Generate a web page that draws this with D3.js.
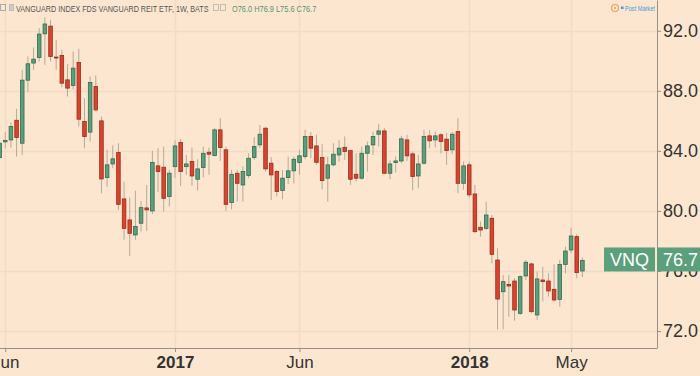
<!DOCTYPE html>
<html>
<head>
<meta charset="utf-8">
<script src="https://cdn.jsdelivr.net/npm/d3@7"></script>
<style>
  html, body { margin: 0; padding: 0; background: #fde6cf; }
  svg { display: block; }
</style>
</head>
<body>
<div id="container"></div>
<script>
// weekly candles, VNQ, from week of 30 May 2016 to week of 21 May 2018
let firstWeek = new Date(2016, 4, 30)
let lastWeek = new Date(2018, 4, 21)

let opens = [83.55, 84.6, 84.73, 86.04, 84.51, 88.71, 89.85, 90.22, 91.8, 92.31,
    90.25, 90.36, 88.73, 88.36, 89.89, 85.96, 85.25, 88.29, 86.0, 82.22,
    83.13, 83.89, 80.8, 79.4, 78.4, 79.18, 80.2, 80.0, 83.0, 82.91,
    80.96, 82.95, 84.56, 82.95, 83.29, 82.11, 82.89, 83.91, 83.69, 85.4,
    84.07, 80.56, 82.51, 81.73, 82.36, 83.56, 84.4, 85.51, 83.18, 82.62,
    81.36, 82.22, 82.67, 83.22, 83.62, 84.96, 84.33, 83.56, 82.18, 83.07,
    83.73, 84.24, 84.02, 82.44, 82.18, 83.84, 84.4, 85.11, 85.33, 82.51,
    83.22, 83.33, 84.73, 83.8, 82.33, 83.18, 85.0, 84.73, 85.07, 84.78,
    84.07, 85.29, 81.84, 83.07, 81.13, 78.91, 78.84, 79.51, 76.73, 74.62,
    75.11, 75.33, 73.18, 75.67, 76.47, 73.07, 75.4, 75.33, 74.78, 74.11,
    76.44, 77.4, 78.29, 76.0]
let highs = [84.7, 85.25, 85.91, 86.8, 89.4, 90.29, 90.89, 92.18, 92.91, 92.73,
    91.4, 90.73, 89.78, 90.62, 90.8, 87.51, 88.96, 89.02, 86.29, 84.07,
    84.36, 84.51, 81.96, 80.89, 81.35, 80.67, 81.73, 84.0, 84.2, 84.29,
    82.73, 84.7, 84.78, 83.73, 84.22, 83.44, 84.29, 84.22, 85.51, 86.18,
    84.29, 82.73, 82.73, 82.96, 83.84, 84.91, 85.73, 85.6, 83.58, 82.73,
    82.73, 83.62, 83.62, 84.07, 85.4, 85.25, 85.07, 84.47, 83.62, 84.51,
    84.73, 84.96, 84.07, 83.84, 84.29, 84.62, 85.29, 85.8, 85.51, 83.36,
    83.62, 85.0, 85.07, 83.96, 83.73, 85.4, 85.4, 85.29, 85.18, 85.18,
    85.25, 86.18, 83.29, 83.29, 81.73, 79.29, 80.62, 79.73, 77.51, 75.73,
    75.73, 75.51, 75.73, 76.73, 76.56, 75.96, 76.29, 75.84, 76.44, 76.73,
    77.62, 78.89, 78.44, 76.9]
let lows = [83.4, 84.18, 84.22, 83.62, 83.73, 87.91, 89.4, 89.95, 89.73, 89.95,
    89.4, 88.22, 87.62, 88.07, 85.62, 84.18, 84.62, 86.62, 81.18, 81.62,
    82.84, 80.07, 78.07, 77.0, 78.07, 78.62, 78.67, 79.78, 81.25, 79.96,
    80.29, 82.18, 81.67, 82.4, 81.67, 81.36, 82.24, 82.4, 83.62, 83.33,
    80.0, 80.11, 80.62, 80.62, 82.18, 83.4, 84.18, 82.62, 80.73, 80.96,
    80.78, 81.8, 81.84, 82.4, 83.44, 83.51, 83.07, 81.44, 80.62, 82.96,
    83.29, 83.4, 81.73, 81.96, 82.07, 82.62, 83.73, 84.29, 82.47, 82.11,
    82.56, 83.18, 83.33, 81.36, 81.51, 83.07, 84.18, 84.24, 83.84, 83.07,
    83.78, 81.18, 81.4, 80.89, 78.51, 78.29, 78.73, 76.51, 72.11, 72.11,
    72.95, 72.69, 73.07, 75.4, 73.18, 72.73, 73.96, 74.29, 73.96, 73.62,
    75.84, 77.18, 75.51, 75.6]
let closes = [84.51, 84.7, 85.62, 84.89, 88.71, 89.8, 90.11, 91.78, 92.45, 90.29,
    90.2, 88.51, 88.18, 89.51, 86.11, 84.96, 88.56, 86.73, 82.13, 83.07,
    83.47, 80.44, 78.84, 78.51, 78.96, 80.22, 80.07, 83.22, 82.62, 80.84,
    82.51, 84.33, 82.62, 83.13, 82.33, 82.8, 83.84, 83.78, 85.4, 84.22,
    80.44, 82.44, 81.84, 82.62, 83.51, 84.29, 85.11, 82.8, 82.4, 81.29,
    82.18, 82.67, 83.44, 83.67, 84.96, 84.18, 83.24, 82.02, 83.07, 83.78,
    84.18, 83.96, 82.11, 82.18, 83.84, 84.33, 84.96, 85.33, 82.51, 83.13,
    83.33, 84.8, 83.67, 82.29, 83.13, 84.96, 84.67, 85.0, 84.62, 84.02,
    85.11, 81.84, 83.0, 81.07, 78.62, 78.73, 79.73, 77.11, 74.13, 75.29,
    75.0, 73.4, 75.62, 76.58, 73.29, 75.47, 75.29, 74.67, 74.07, 76.44,
    77.33, 78.33, 75.89, 76.7]

let priceTicks = [72, 76, 80, 84, 88, 92]
let dateTicks = [new Date(2016, 5, 6), new Date(2017, 0, 2), new Date(2017, 5, 5),
    new Date(2018, 0, 1), new Date(2018, 4, 7)]
let dateLabels = ["Jun", "2017", "Jun", "2018", "May"]
let boldLabels = ["2017", "2018"]

let symbol = "VNQ"
let title = "VANGUARD INDEX FDS VANGUARD REIT ETF, 1W, BATS"

let weeks = d3.timeMonday.range(firstWeek, d3.timeDay.offset(lastWeek, 1))
let data = weeks.map((d, i) => ({
    date: d, open: opens[i], high: highs[i], low: lows[i], close: closes[i]
}))

let width = 700
let height = 376
let plotRight = 657
let plotBottom = 348

let bg = "#fde6cf"
let upFill = "#5b9f7c", upLine = "#2f6c4d"
let downFill = "#d9442f", downLine = "#9a2c1d"
let wickColor = "#b5a999"
let gridColor = "#f1dcc8"
let axisColor = "#9a8f86"
let font = "Arial, 'Liberation Sans', sans-serif"

let svg = d3.select("#container")
    .append("svg")
    .attr("width", width)
    .attr("height", height)
    .style("background", bg)

let x = d3.scaleTime()
    .domain([firstWeek, lastWeek])
    .range([-0.4, 582.4])

let y = d3.scaleLinear()
    .domain([70.87, 94.05])
    .range([plotBottom, 0])

// grid
svg.append("g")
    .selectAll("line")
    .data(priceTicks)
    .join("line")
        .attr("x1", 0)
        .attr("x2", plotRight)
        .attr("y1", d => Math.round(y(d)) + 0.5)
        .attr("y2", d => Math.round(y(d)) + 0.5)
        .attr("stroke", gridColor)
        .attr("stroke-width", 1.5)

svg.append("g")
    .selectAll("line")
    .data(dateTicks)
    .join("line")
        .attr("x1", d => Math.round(x(d)) + 0.5)
        .attr("x2", d => Math.round(x(d)) + 0.5)
        .attr("y1", 0)
        .attr("y2", plotBottom)
        .attr("stroke", gridColor)
        .attr("stroke-width", 1.5)

// candles
let candles = svg.append("g")
    .selectAll("g")
    .data(data)
    .join("g")
    .attr("transform", d => `translate(${x(d.date)},0)`)

candles.append("line")
    .attr("y1", d => y(d.high))
    .attr("y2", d => y(d.low))
    .attr("stroke", wickColor)
    .attr("stroke-width", 1)

candles.append("rect")
    .attr("x", -1.8)
    .attr("width", 3.6)
    .attr("y", d => y(Math.max(d.open, d.close)))
    .attr("height", d => Math.max(1, Math.abs(y(d.open) - y(d.close))))
    .attr("fill", d => d.close >= d.open ? upFill : downFill)
    .attr("stroke", d => d.close >= d.open ? upLine : downLine)
    .attr("stroke-width", 0.8)

// axes
let yAxis = svg.append("g")
    .attr("transform", `translate(${plotRight},0)`)
    .call(d3.axisRight(y)
        .tickValues(priceTicks)
        .tickFormat(d3.format(".1f"))
        .tickSize(4)
        .tickSizeOuter(0)
        .tickPadding(2))

yAxis.select(".domain").attr("stroke", axisColor)
yAxis.selectAll(".tick line").attr("stroke", axisColor)
yAxis.selectAll(".tick text")
    .attr("fill", "#333")
    .style("font-family", font)
    .style("font-size", "18px")

let xAxis = svg.append("g")
    .attr("transform", `translate(0,${plotBottom})`)
    .call(d3.axisBottom(x)
        .tickValues(dateTicks)
        .tickFormat((d, i) => dateLabels[i])
        .tickSize(4)
        .tickSizeOuter(0)
        .tickPadding(4))

xAxis.select(".domain")
    .attr("d", `M0,0.5H${plotRight}`)
    .attr("stroke", axisColor)
xAxis.selectAll(".tick line").attr("stroke", axisColor)
xAxis.selectAll(".tick text")
    .attr("fill", "#333")
    .style("font-family", font)
    .style("font-size", "17px")
    .style("font-weight", (d, i) => boldLabels.includes(dateLabels[i]) ? "bold" : "normal")

// last price label
let last = data[data.length - 1]
let ly = y(last.close)
let tag = svg.append("g")
tag.append("rect")
    .attr("x", 604).attr("y", ly - 13)
    .attr("width", 51).attr("height", 24)
    .attr("fill", upFill)
tag.append("rect")
    .attr("x", plotRight).attr("y", ly - 13)
    .attr("width", width - plotRight).attr("height", 24)
    .attr("fill", upFill)
tag.append("text")
    .attr("x", 629.5).attr("y", ly - 1)
    .attr("dy", "0.35em")
    .attr("text-anchor", "middle")
    .attr("fill", "white")
    .style("font-family", font)
    .style("font-size", "18px")
    .text(symbol)
tag.append("text")
    .attr("x", 663).attr("y", ly - 1)
    .attr("dy", "0.35em")
    .attr("fill", "white")
    .style("font-family", font)
    .style("font-size", "18px")
    .text(d3.format(".1f")(last.close))

// header (narrow text: small font stretched upward)
let header = svg.append("g").style("font-family", font)
header.append("rect")
    .attr("x", 0.5).attr("y", 4.5).attr("width", 5).attr("height", 6)
    .attr("fill", "none").attr("stroke", "#aaa")
header.append("rect")
    .attr("x", 9.5).attr("y", 4.5).attr("width", 4).attr("height", 6)
    .attr("fill", "#ccc").attr("stroke", "#bbb")
header.append("text")
    .attr("transform", "translate(16,11.5) scale(1,1.3)")
    .attr("fill", "#555")
    .style("font-size", "7.2px")
    .text(title)
header.append("path")
    .attr("d", "M204,7 L208,7 L206,9.5 Z")
    .attr("fill", "#c4b8ad")
header.selectAll(".btn")
    .data([213, 220])
    .join("rect")
        .attr("x", d => d + 0.5).attr("y", 4.5).attr("width", 5).attr("height", 6)
        .attr("fill", "none").attr("stroke", "#c8bbb0")
header.append("text")
    .attr("transform", "translate(232,11.5) scale(1,1.3)")
    .attr("fill", "#4f9670")
    .style("font-size", "7.4px")
    .text(`O${last.open.toFixed(1)} H${last.high.toFixed(1)} L${last.low.toFixed(1)} C${last.close.toFixed(1)}`)

header.append("circle")
    .attr("cx", 615).attr("cy", 8).attr("r", 3.5)
    .attr("fill", "none").attr("stroke", "#f0a060").attr("stroke-width", 1.2)
header.append("circle")
    .attr("cx", 615).attr("cy", 8).attr("r", 1)
    .attr("fill", "#f0a060")
header.append("rect")
    .attr("x", 621).attr("y", 6.5).attr("width", 2.5).attr("height", 2.5)
    .attr("fill", "#3b9be0")
header.append("text")
    .attr("transform", "translate(625,10.5) scale(1,1.2)")
    .attr("fill", "#3b9be0")
    .style("font-size", "5.6px")
    .text("Post Market")
</script>
</body>
</html>
